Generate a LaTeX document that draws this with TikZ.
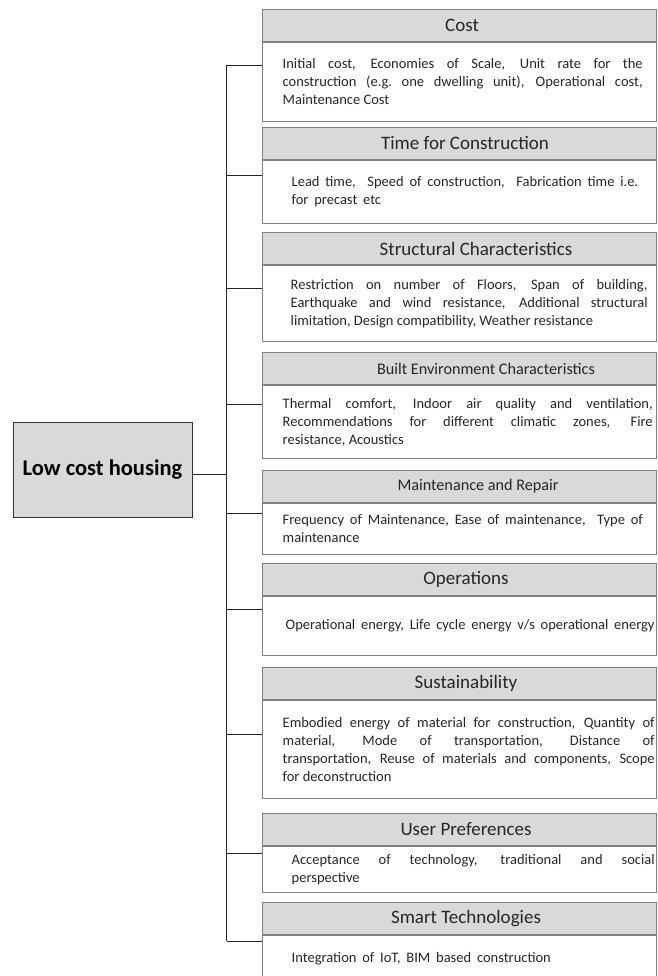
\documentclass[tikz,border=0pt]{standalone}
\usepackage{fontspec}
\setmainfont{Carlito}
\usetikzlibrary{positioning,calc}
\definecolor{hdrgray}{HTML}{D9D9D9}
\definecolor{linegray}{HTML}{808080}
\definecolor{txtgray}{HTML}{262626}
\tikzset{
  hdr/.style={draw=linegray, fill=hdrgray, line width=1pt, minimum width=394pt,
    minimum height=32pt, inner sep=0pt, anchor=north, text=txtgray,
    font=\fontsize{19}{22}\selectfont, execute at begin node={\hspace*{#1}}},
  hdr/.default=12pt,
  smallhdr/.style={hdr=#1, font=\fontsize{16.2}{20}\selectfont},
  bodybox/.style={draw=linegray, line width=1pt, minimum width=394pt, inner sep=0pt},
  bodytxt/.style={anchor=west, inner sep=0pt, text=txtgray,
    font=\fontsize{14.5}{18}\selectfont},
  looseline/.style={bodytxt, align=left,
    execute at begin node={\spaceskip=0.4em plus 0.1em\relax}},
  rootbox/.style={draw=black!80, fill=hdrgray, line width=1pt, minimum width=179pt,
    minimum height=95pt, font=\fontsize{22.5}{26}\selectfont\bfseries},
  link/.style={draw=black!85, line width=0.9pt}
}
\begin{document}
\begin{tikzpicture}[x=1pt,y=-1pt]
        \clip (0,0) rectangle (657,976);
        % root
        \node[rootbox] (lch) at (102.5,469.5) {Low cost housing};
        % headers
        \node[hdr=6pt] (cost) at (459,9) {Cost};
        \node[hdr] (time) at (459,127) {Time for Construction};
        \node[hdr=34pt] (struct) at (459,232) {Structural Characteristics};
        \node[smallhdr=54pt] (built) at (459,352) {Built Environment Characteristics};
        \node[smallhdr=38pt] (maint) at (459,470) {Maintenance and Repair};
        \node[hdr=14pt] (ops) at (459,563) {Operations};
        \node[hdr=14pt] (sust) at (459,667) {Sustainability};
        \node[hdr=14pt] (user) at (459,813) {User Preferences};
        \node[hdr=14pt] (smart) at (459,902) {Smart Technologies};
        % bodies
        \node[bodybox, minimum height=79pt, below=0pt of cost] (costb) {};
        \node[bodybox, minimum height=63pt, below=0pt of time] (timeb) {};
        \node[bodybox, minimum height=76pt, below=0pt of struct] (structb) {};
        \node[bodybox, minimum height=73pt, below=0pt of built] (builtb) {};
        \node[bodybox, minimum height=51pt, below=0pt of maint] (maintb) {};
        \node[bodybox, minimum height=59pt, below=0pt of ops] (opsb) {};
        \node[bodybox, minimum height=98pt, below=0pt of sust] (sustb) {};
        \node[bodybox, minimum height=46pt, below=0pt of user] (userb) {};
        \node[bodybox, minimum height=100pt, below=0pt of smart] (smartb) {};
        % texts
        \node[bodytxt, text width=360pt, align=justify] (costt) at ($(costb.west)+(21,0)$)
          {Initial cost, Economies of Scale, Unit rate for the\linebreak construction (e.g.\ one dwelling unit), Operational cost,\linebreak Maintenance Cost};
        \node[looseline] (timet) at ($(timeb.west)+(30,0)$)
          {Lead time,\ \ Speed of construction,\ \ Fabrication time i.e.\\ for precast etc};
        \node[bodytxt, text width=357pt, align=justify] (structt) at ($(structb.west)+(29,0)$)
          {Restriction on number of Floors, Span of building,\linebreak Earthquake and wind resistance, Additional structural\linebreak limitation, Design compatibility, Weather resistance};
        \node[bodytxt, text width=370pt, align=justify] (builtt) at ($(builtb.west)+(21,0)$)
          {Thermal comfort, Indoor air quality and ventilation,\linebreak Recommendations for different climatic zones, Fire\linebreak resistance, Acoustics};
        \node[looseline] (maintt) at ($(maintb.west)+(21,0)$)
          {Frequency of Maintenance, Ease of maintenance,\ \ Type of\\ maintenance};
        \node[looseline] (opst) at ($(opsb.west)+(24,0)$)
          {Operational energy, Life cycle energy v/s operational energy};
        \node[bodytxt, text width=372pt, align=justify] (sustt) at ($(sustb.west)+(21,0)$)
          {Embodied energy of material for construction, Quantity of\linebreak material, Mode of transportation, Distance of\linebreak transportation, Reuse of materials and components, Scope\linebreak for deconstruction};
        \node[bodytxt, text width=363pt, align=justify] (usert) at ($(userb.west)+(30,0)$)
          {Acceptance of technology, traditional and social\linebreak perspective};
        \node[looseline] (smartt) at ($(smartb.north west)+(30,24)$)
          {Integration of IoT, BIM based construction};
        % connectors
        \foreach \b/\d in {costb/23, timeb/15, structb/23, builtb/19, maintb/10,
                           opsb/13, sustb/34, userb/7, smartb/6}
            \draw[link] ([yshift=-\d pt]\b.north west) -- ++(-35,0) coordinate (\b-end);
        \draw[link] (costb-end) -- (smartb-end);
        \draw[link] ([yshift=-5pt]lch.east) -- ([yshift=-5pt]lch.east -| costb-end);
\end{tikzpicture}
\end{document}
